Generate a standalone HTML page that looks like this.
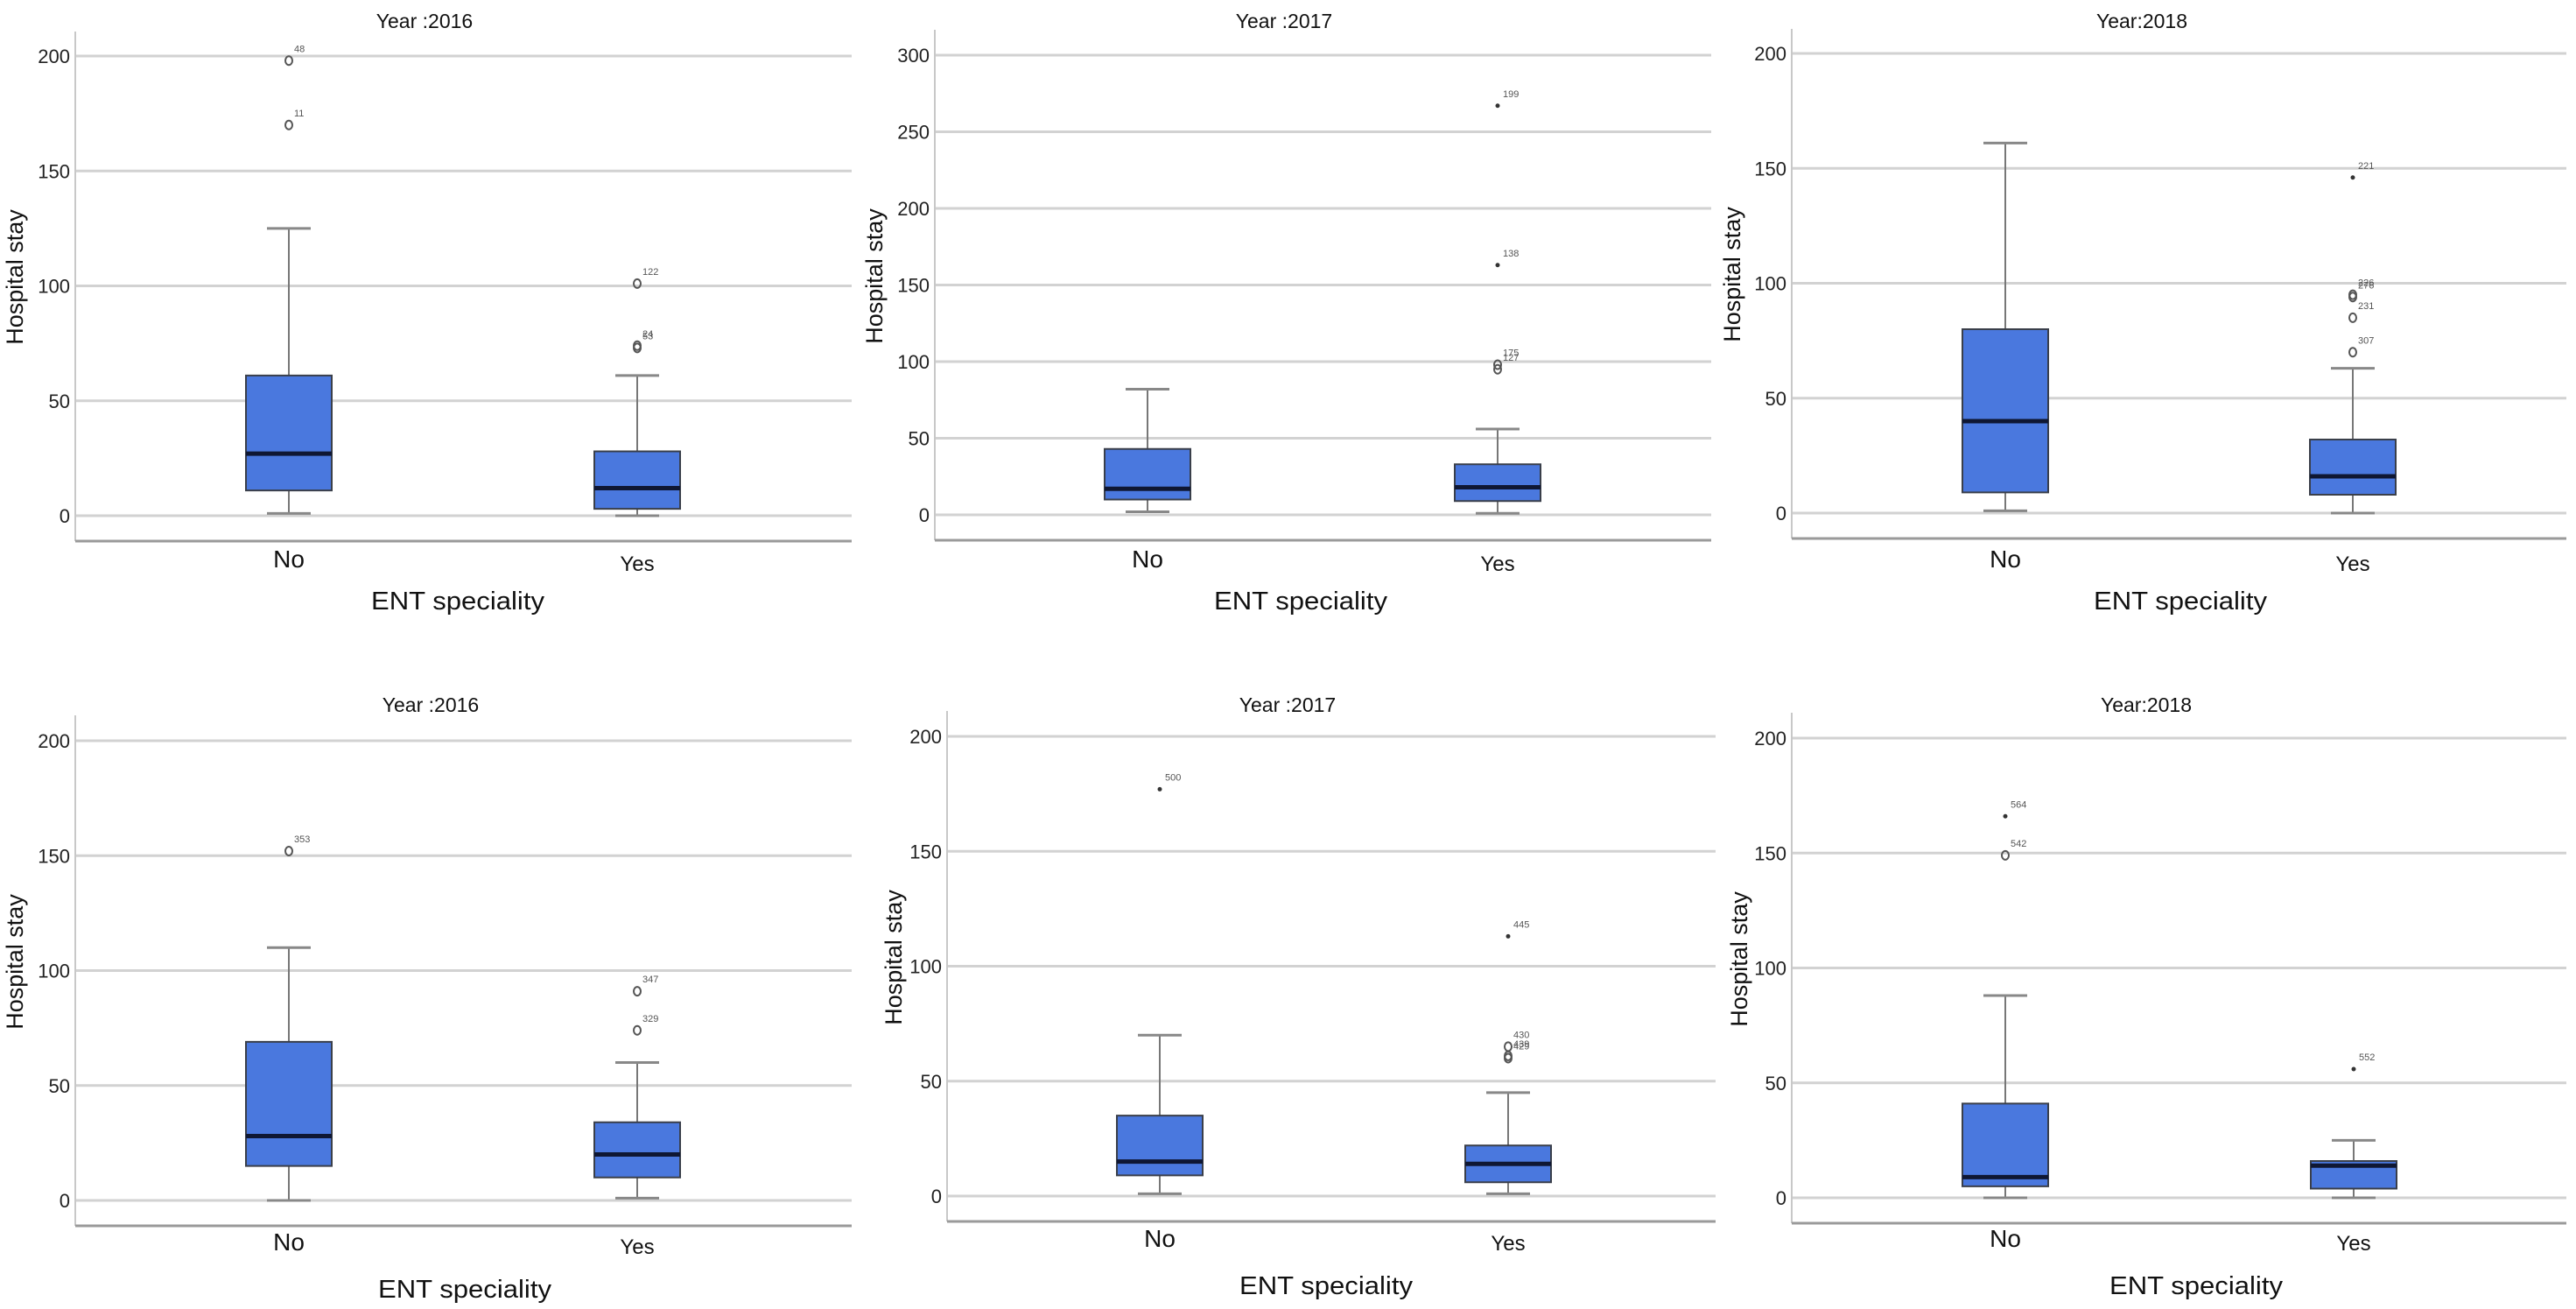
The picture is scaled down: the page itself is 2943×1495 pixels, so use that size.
<!DOCTYPE html>
<html><head><meta charset="utf-8">
<style>
html,body{margin:0;padding:0;background:#fff;}
svg{display:block;}
text{font-family:"Liberation Sans",Arial,sans-serif;}
</style></head>
<body>
<svg id="fig" width="2943" height="1495" viewBox="0 0 2943 1495" xmlns="http://www.w3.org/2000/svg"></svg>
<script>
// ---- data (five-number summaries: whisker low, q1, median, q3, whisker high) ----
const categories = ["No", "Yes"];
const panelTitles = ["Year :2016", "Year :2017", "Year:2018", "Year :2016", "Year :2017", "Year:2018"];
const yMaxes = [200, 300, 200, 200, 200, 200];
const yTicks200 = [0, 50, 100, 150, 200];
const yTicks300 = [0, 50, 100, 150, 200, 250, 300];
const noStats = [
  [1, 11, 27, 61, 125],
  [2, 10, 17, 43, 82],
  [1, 9, 40, 80, 161],
  [0, 15, 28, 69, 110],
  [1, 9, 15, 35, 70],
  [0, 5, 9, 41, 88]
];
const yesStats = [
  [0, 3, 12, 28, 61],
  [1, 9, 18, 33, 56],
  [0, 8, 16, 32, 63],
  [1, 10, 20, 34, 60],
  [1, 6, 14, 22, 45],
  [0, 4, 14, 16, 25]
];
// outliers: [panel, category index, value, type('o' circle / '*' extreme), case label]
const outlierPanel = [0,0,0,0,0, 1,1,1,1, 2,2,2,2,2, 3,3,3, 4,4,4,4,4, 5,5,5];
const outlierCat   = [0,0,1,1,1, 1,1,1,1, 1,1,1,1,1, 0,1,1, 0,1,1,1,1, 0,0,1];
const outlierValue = [198,170,101,74,73, 267,163,98,95, 146,95,94,85,70, 152,91,74, 177,113,65,61,60, 166,149,56];
const outlierType  = ["o","o","o","o","o", "*","*","o","o", "*","o","o","o","o", "o","o","o", "*","*","o","o","o", "*","o","*"];
const outlierLabel = ["48","11","122","24","53", "199","138","175","127", "221","226","276","231","307", "353","347","329", "500","445","430","439","429", "564","542","552"];

// ---- layout (pixel geometry, not data) ----
const layout = [
  {ax:86,  gr:973,  yTop:64, y0:589, axTop:36,  base:618, cx:[330,728],  title:[485,24],   ylab:16,   xlab:523,  lblY:[648,652], xlabY:696},
  {ax:1068,gr:1955, yTop:63, y0:588, axTop:34,  base:617, cx:[1311,1711],title:[1467,24],  ylab:998,  xlab:1486, lblY:[648,652], xlabY:696},
  {ax:2047,gr:2932, yTop:61, y0:586, axTop:33,  base:615, cx:[2291,2688],title:[2447,24],  ylab:1978, xlab:2491, lblY:[648,652], xlabY:696},
  {ax:86,  gr:973,  yTop:846,y0:1371,axTop:817, base:1400,cx:[330,728],  title:[492,805],  ylab:16,   xlab:531,  lblY:[1428,1432],xlabY:1482},
  {ax:1082,gr:1960, yTop:841,y0:1366,axTop:812, base:1395,cx:[1325,1723],title:[1471,805], ylab:1020, xlab:1515, lblY:[1424,1428],xlabY:1478},
  {ax:2047,gr:2932, yTop:843,y0:1368,axTop:814, base:1397,cx:[2291,2689],title:[2452,805], ylab:1986, xlab:2509, lblY:[1424,1428],xlabY:1478}
];

const NS = "http://www.w3.org/2000/svg";
const svg = document.getElementById("fig");
function mk(tag, attrs, parent) {
  const e = document.createElementNS(NS, tag);
  for (const k in attrs) e.setAttribute(k, attrs[k]);
  (parent || svg).appendChild(e);
  return e;
}

layout.forEach((L, p) => {
  const g = mk("g", {});
  
  
  const ymax = yMaxes[p];
  const ticks = ymax === 300 ? yTicks300 : yTicks200;
  const yScale = v => L.y0 - (v / ymax) * (L.y0 - L.yTop);
  const half = 49, cap = 25;

  // gridlines + tick labels
  ticks.forEach(t => {
    const y = yScale(t);
    const gl = mk("line", {x1:L.ax, x2:L.gr, y1:y, y2:y, stroke:"#d2d2d2", "stroke-width":3}, g);
    
    
    const tl = mk("text", {x:L.ax - 6, y:y + 8, "font-size":22, "text-anchor":"end", fill:"#222"}, g);
    tl.textContent = t;
    
    
  });
  // axes
  const ya = mk("line", {x1:L.ax, x2:L.ax, y1:L.axTop, y2:L.base, stroke:"#c8c8c8", "stroke-width":2}, g);
  
  
  const xa = mk("line", {x1:L.ax, x2:L.gr, y1:L.base, y2:L.base, stroke:"#9a9a9a", "stroke-width":3}, g);
  
  

  // title
  const ti = mk("text", {x:L.title[0], y:L.title[1] + 8, "font-size":23, "text-anchor":"middle", fill:"#111"}, g);
  ti.textContent = panelTitles[p];
  
  
  // y axis title
  const yt = mk("text", {x:0, y:0, "font-size":27, "text-anchor":"middle", fill:"#111",
    transform:"translate(" + (L.ylab + 10) + "," + ((L.yTop + L.y0) / 2 - 10) + ") rotate(-90)"}, g);
  yt.textContent = "Hospital stay";
  
  
  // x axis title
  const xt = mk("text", {x:L.xlab, y:L.xlabY, "font-size":29, "text-anchor":"middle", fill:"#111", textLength:198, lengthAdjust:"spacingAndGlyphs"}, g);
  xt.textContent = "ENT speciality";
  
  

  // boxes
  [noStats[p], yesStats[p]].forEach((s, c) => {
    const cx = L.cx[c];
    const bg = mk("g", {}, g);
    
    
    mk("line", {x1:cx, x2:cx, y1:yScale(s[0]), y2:yScale(s[1]), stroke:"#777", "stroke-width":2}, bg);
    mk("line", {x1:cx, x2:cx, y1:yScale(s[3]), y2:yScale(s[4]), stroke:"#777", "stroke-width":2}, bg);
    mk("line", {x1:cx - cap, x2:cx + cap, y1:yScale(s[0]), y2:yScale(s[0]), stroke:"#888", "stroke-width":3}, bg);
    mk("line", {x1:cx - cap, x2:cx + cap, y1:yScale(s[4]), y2:yScale(s[4]), stroke:"#888", "stroke-width":3}, bg);
    mk("rect", {x:cx - half, y:yScale(s[3]), width:half * 2, height:yScale(s[1]) - yScale(s[3]), fill:"#4a78de", stroke:"#3a3f4a", "stroke-width":2}, bg);
    mk("line", {x1:cx - half, x2:cx + half, y1:yScale(s[2]), y2:yScale(s[2]), stroke:"#0f1733", "stroke-width":5}, bg);
    const cl = mk("text", {x:cx, y:L.lblY[c], "font-size":c === 0 ? 28 : 24, "text-anchor":"middle", fill:"#111"}, g);
    cl.textContent = categories[c];
    
    
  });

  // outliers
  outlierValue.forEach((v, i) => {
    if (outlierPanel[i] !== p) return;
    const cx = L.cx[outlierCat[i]];
    const y = yScale(v);
    let m;
    if (outlierType[i] === "o") {
      m = mk("ellipse", {cx:cx, cy:y, rx:4, ry:5, fill:"none", stroke:"#555", "stroke-width":2}, g);
    } else {
      m = mk("circle", {cx:cx, cy:y, r:2.5, fill:"#333"}, g);
    }
    
    
    const ol = mk("text", {x:cx + 6, y:y - 10, "font-size":11, fill:"#555"}, g);
    ol.textContent = outlierLabel[i];
    
    
  });
});
</script>
</body></html>
